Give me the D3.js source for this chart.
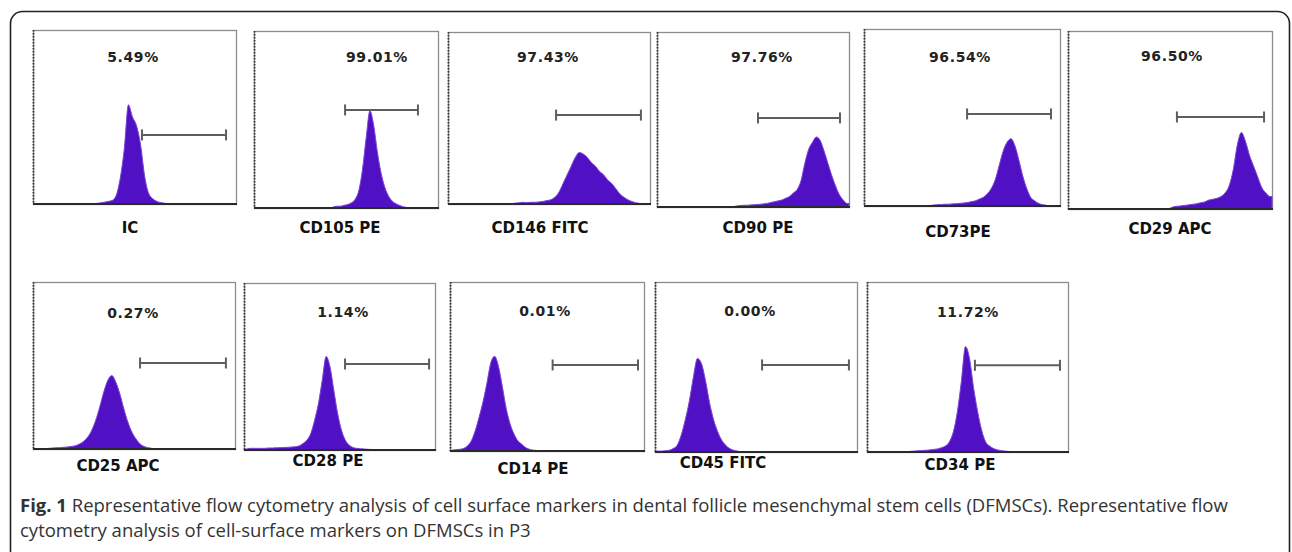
<!DOCTYPE html>
<html>
<head>
<meta charset="utf-8">
<script src="https://cdn.jsdelivr.net/npm/d3@7"></script>
<style>
  html, body { margin: 0; padding: 0; background: #fff; }
  svg { display: block; }
</style>
</head>
<body>
<svg id="chart" width="1292" height="552"></svg>
<script>
// ---------------- DATA ----------------
const markers = ["IC", "CD105 PE", "CD146 FITC", "CD90 PE", "CD73PE", "CD29 APC",
                 "CD25 APC", "CD28 PE", "CD14 PE", "CD45 FITC", "CD34 PE"];
const percents = ["5.49%", "99.01%", "97.43%", "97.76%", "96.54%", "96.50%",
                  "0.27%", "1.14%", "0.01%", "0.00%", "11.72%"];
// gate (marker bar) in channel units 0..1000, and its level in % of max count axis
const gateStart = [537, 495, 535, 526, 526, 534, 530, 529, 529, 530, 537];
const gateEnd   = [951, 891, 955, 953, 954, 961, 955, 969, 969, 960, 960];
const gateLevel = [39.7, 55.4, 51.7, 50.9, 52, 51.7, 51.5, 51.5, 50.9, 51.2, 51];
// histogram counts (% of count axis), 50 bins of 20 channels each
const histIC = [0,0,0,0,0,0,0,0,0,0, 0,0,0,0,0,0.3,0.6,1,1.5,2, 5,15,32,57,50, 45,34,16,6,3, 1.5,0.8,0.4,0.2,0, 0,0,0,0,0, 0,0,0,0,0, 0,0,0,0,0];
const histCD105 = [0,0,0,0,0,0,0,0,0,0, 0,0,0,0,0,0,0,0,0,0, 0,0.5,1,1,1.5,2,3,5,10,22, 40,55,47,32,20,12,7,4,2.5,1.5, 0.7,0.3,0,0,0,0,0,0,0,0];
const histCD146 = [0,0,0,0,0,0,0,0,0,0, 0,0,0,0,0,0,0.5,0.7,1,0.8, 1,1,1.2,1.5,2,2.5,4,7,12,17, 22,27,30,29,27,24,22,19,17,14, 12,9,6,4,2.5,1.5,0.7,0.3,0,0];
const histCD90 = [0,0,0,0,0,0,0,0,0,0, 0,0,0,0,0,0,0,0,0,0, 0.5,0.8,1,1,1.2,1.3,1.5,1.7,2,2.5, 3,3.5,4,5,6,8,10,15,25,33, 37,40,38,32,25,18,12,7,4,2];
const histCD73 = [0,0,0,0,0,0,0,0,0,0, 0,0,0,0,0,0,0,0.5,0.7,0.8, 1,1,1.2,1.3,1.5,1.7,2,2.5,3,4, 5,7,10,15,23,31,36,38,34,26, 17,10,5,3,1.5,0.8,0.4,0,0,0];
const histCD29 = [0,0,0,0,0,0,0,0,0,0, 0,0,0,0,0,0,0,0,0,0, 0,0,0,0,0,1,1.5,1.7,2,2.3, 2.6,3,3.5,4,5,5.5,6,7,9,13, 22,36,43,38,30,24,18,12,9,7];
const histCD25 = [0,0,0,0.3,0.5,0.7,0.8,1,1.2,1.5, 2,3,4.5,7,11,17,25,34,41,44, 40,33,24,16,10,6,3,1.5,0.8,0.3, 0,0,0,0,0,0,0,0,0,0, 0,0,0,0,0,0,0,0,0,0];
const histCD28 = [0.5,1,1,1,1,1,1.2,1.2,1.3,1.4, 1.5,1.6,1.8,2,2.5,4,6,10,18,28, 42,56,50,36,22,12,6,3,1.5,1, 0.8,0.6,0.4,0.3,0,0,0,0,0,0, 0,0,0,0,0,0,0,0,0,0];
const histCD14 = [0.5,0.8,1,1.5,3,6,12,20,29,40, 52,56,50,38,25,16,10,6,4,2, 1,0.5,0.3,0,0,0,0,0,0,0, 0,0,0,0,0,0,0,0,0,0, 0,0,0,0,0,0,0,0,0,0];
const histCD45 = [0.5,0.5,0.7,1,2,4,10,19,30,44, 55,52,42,29,19,12,7,4,2,1, 0.5,0,0,0,0,0,0,0,0,0, 0,0,0,0,0,0,0,0,0,0, 0,0,0,0,0,0,0,0,0,0];
const histCD34 = [0,0,0,0,0,0,0,0,0,0, 0.3,0.5,0.7,0.8,1,1.2,1.5,1.8,2.5,3.5, 6,12,24,42,62,55,38,24,13,6, 3.5,2,1.2,0.8,0.5,0.3,0,0,0,0, 0,0,0,0,0,0,0,0,0,0];
const histograms = [histIC, histCD105, histCD146, histCD90, histCD73, histCD29,
                    histCD25, histCD28, histCD14, histCD45, histCD34];
const captionBold = "Fig. 1";
const captionLine1 = " Representative flow cytometry analysis of cell surface markers in dental follicle mesenchymal stem cells (DFMSCs). Representative flow";
const captionLine2 = "cytometry analysis of cell-surface markers on DFMSCs in P3";

// ---------------- LAYOUT ----------------
// panel boxes [left, top, right, bottom], and label positions
const panels = [
  [33, 30, 236, 204], [254, 31, 438, 208], [448, 32, 650, 204], [657, 32, 849, 207],
  [864, 29, 1060, 206], [1068, 31, 1272, 209],
  [33, 282, 235, 449], [244, 283, 435, 450], [450, 282, 644, 451], [655, 282, 857, 452],
  [867, 282, 1068, 452]
];
const pctPos = [[133, 57], [377, 57], [548, 57], [762, 57], [960, 57], [1172, 56],
                [133, 313], [343, 312], [545, 311], [750, 311], [968, 312]];
const labPos = [[130, 228], [340, 228], [540, 228], [758, 228], [958, 232], [1170, 229],
                [118, 466], [328, 461], [533, 469], [723, 463], [960, 465]];

const svg = d3.select("#chart");
svg.append("rect").attr("width", 1292).attr("height", 552).attr("fill", "#fff");

// outer frame
svg.append("rect")
  .attr("x", 10.5).attr("y", 11.5).attr("width", 1279).attr("height", 600)
  .attr("rx", 12).attr("ry", 12)
  .attr("fill", "none").attr("stroke", "#222").attr("stroke-width", 1.6);

const nBins = 50, binW = 20;

histograms.forEach((counts, i) => {
  const [l, t, r, b] = panels[i];
  const x = d3.scaleLinear().domain([0, 1000]).range([l, r]);
  const y = d3.scaleLinear().domain([0, 100]).range([b, t]);
  const g = svg.append("g");

  // panel border
  g.append("rect")
    .attr("x", l + 0.5).attr("y", t + 0.5).attr("width", r - l).attr("height", b - t)
    .attr("fill", "#fff").attr("stroke", "#8c8c8c").attr("stroke-width", 1.3);
  // dotted left axis
  g.append("line")
    .attr("x1", l + 0.5).attr("x2", l + 0.5).attr("y1", t).attr("y2", b)
    .attr("stroke", "#3a3a3a").attr("stroke-width", 1.8).attr("stroke-dasharray", "1.5,1.5");

  const pts = counts.map((c, k) => [(k + 0.5) * binW, c]);
  pts.unshift([0, counts[0]]);
  pts.push([1000, counts[nBins - 1]]);

  const area = d3.area()
    .x(d => x(d[0]))
    .y0(y(0))
    .y1(d => y(d[1]))
    .curve(d3.curveMonotoneX);

  g.append("path")
    .datum(pts)
    .attr("d", area)
    .attr("fill", "#5010c4")
    .attr("stroke", "#7b45d6")
    .attr("stroke-width", 1);

  // x axis baseline
  g.append("line")
    .attr("x1", l).attr("x2", r + 1).attr("y1", b).attr("y2", b)
    .attr("stroke", "#2a2a2a").attr("stroke-width", 2.2);

  // gate marker
  const gy = y(gateLevel[i]);
  const gx1 = x(gateStart[i]), gx2 = x(gateEnd[i]);
  const gate = g.append("g").attr("stroke", "#5e5e5e").attr("stroke-width", 2);
  gate.append("line").attr("x1", gx1).attr("x2", gx2).attr("y1", gy).attr("y2", gy);
  gate.append("line").attr("x1", gx1).attr("x2", gx1).attr("y1", gy - 5.5).attr("y2", gy + 5.5);
  gate.append("line").attr("x1", gx2).attr("x2", gx2).attr("y1", gy - 5.5).attr("y2", gy + 5.5);

  // percent label
  g.append("text")
    .attr("x", pctPos[i][0]).attr("y", pctPos[i][1])
    .attr("text-anchor", "middle").attr("dominant-baseline", "central")
    .attr("font-family", "DejaVu Sans").attr("font-weight", "bold")
    .attr("font-size", 14).attr("letter-spacing", 0.6)
    .attr("fill", "#222")
    .text(percents[i]);

  // marker label
  svg.append("text")
    .attr("x", labPos[i][0]).attr("y", labPos[i][1])
    .attr("text-anchor", "middle").attr("dominant-baseline", "central")
    .attr("font-family", "DejaVu Sans").attr("font-weight", "bold")
    .attr("font-size", 15)
    .attr("fill", "#111")
    .text(markers[i]);
});

// caption
const cap = svg.append("text")
  .attr("x", 20).attr("y", 512)
  .attr("font-family", "Open Sans").attr("font-size", 18.5).attr("fill", "#333");
cap.append("tspan").attr("font-weight", "bold").text(captionBold);
cap.append("tspan").text(captionLine1);
svg.append("text")
  .attr("x", 20).attr("y", 537)
  .attr("font-family", "Open Sans").attr("font-size", 18.5).attr("fill", "#333")
  .text(captionLine2);
</script>
</body>
</html>
